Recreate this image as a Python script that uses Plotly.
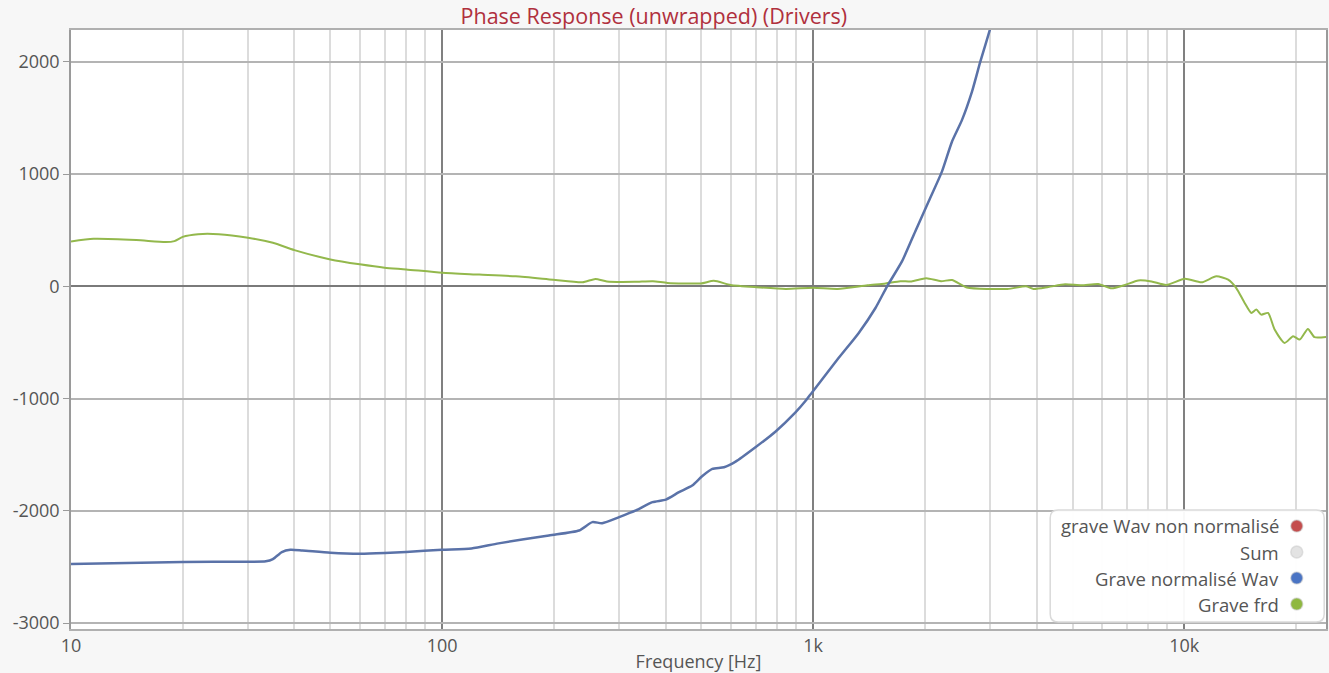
import plotly.graph_objects as go

# Grave frd (green)
freq_frd = [10, 11.5, 15, 18, 19, 20, 22, 25, 30, 35, 40, 50, 60, 70, 80, 100, 126, 158, 199, 239,
            259, 278, 330, 370, 405, 498, 540, 599, 703, 844, 1000, 1164, 1400, 1567, 1718, 1840, 2017, 2210, 2367, 2594,
            3340, 3745, 3925, 4305, 4775, 5290, 5865, 6370, 6920, 7520, 8160, 8950, 10040, 11130, 12200, 13130, 13810, 14550, 15160, 15640,
            16130, 16820, 17520, 18650, 19650, 20470, 21540, 22440, 24200]
phase_frd = [400, 424, 412, 394, 403, 441, 465, 465, 433, 388, 323, 240, 196, 166, 151, 121, 105, 89, 59, 36,
             66, 43, 40, 46, 30, 26, 49, 13, -7, -23, -13, -23, 10, 26, 46, 43, 72, 46, 56, -10,
             -23, 0, -23, -6, 18, 9, 21, -18, 12, 53, 44, 12, 68, 36, 89, 59, -15, -148, -237, -207,
             -252, -237, -385, -504, -444, -474, -379, -453, -450]

# Grave normalisé Wav (blue)
freq_wav = [10, 20, 30, 33.5, 35, 37, 39, 42, 50, 60, 70, 80, 100, 120, 142, 194, 234, 254, 270, 300,
            333, 369, 401, 435, 472, 502, 535, 575, 618, 699, 791, 896, 953, 993, 1172, 1327, 1472, 1582, 1735,
            1884, 2047, 2223, 2366, 2517, 2678, 2820, 3000, 3150]
phase_wav = [-2474, -2456, -2453, -2450, -2430, -2367, -2347, -2353, -2373, -2382, -2376, -2367, -2347, -2335, -2290, -2219, -2175, -2101, -2110, -2056,
             -1997, -1923, -1900, -1834, -1775, -1692, -1627, -1612, -1562, -1434, -1295, -1123, -1022, -945, -637, -415, -193, 0, 222,
             489, 756, 1022, 1289, 1481, 1733, 2000, 2296, 2550]

# legend entries (custom legend, dot on the right side)
legend_names = ["grave Wav non normalisé", "Sum", "Grave normalisé Wav", "Grave frd"]
legend_colors = ["#c44d4d", "#e3e3e3", "#4a74c4", "#8fb840"]

x_tickvals = [10, 100, 1000, 10000]
x_ticktext = ["10", "100", "1k", "10k"]
y_tickvals = [-3000, -2000, -1000, 0, 1000, 2000]
y_ticktext = ["-3000", "-2000", "-1000", "0", "1000", "2000"]

FONT = "Open Sans"
TXT = "#555555"

fig = go.Figure()

fig.add_trace(go.Scatter(x=freq_frd, y=phase_frd, mode="lines", name="Grave frd",
                         line=dict(color="#93b84c", width=2, shape="spline", smoothing=0.6)))
fig.add_trace(go.Scatter(x=freq_wav, y=phase_wav, mode="lines", name="Grave normalisé Wav",
                         line=dict(color="#5a72a8", width=2.5, shape="spline", smoothing=0.6)))

fig.update_layout(
    width=1329, height=673,
    margin=dict(l=71, r=1, t=30, b=44),
    paper_bgcolor="#f7f7f7",
    plot_bgcolor="white",
    showlegend=False,
    font=dict(family=FONT, color=TXT, size=17),
    title=dict(text="Phase Response (unwrapped) (Drivers)", x=0.492, xref="container", xanchor="center",
               y=0.976, yref="container", yanchor="middle",
               font=dict(family=FONT, size=21.5, color="#b0303d")),
)

fig.update_xaxes(
    type="log", range=[1, 4.382],
    tickmode="array", tickvals=x_tickvals, ticktext=x_ticktext,
    tickfont=dict(size=18, color=TXT),
    showgrid=True, gridcolor="#808080", gridwidth=1.5,
    minor=dict(tickvals=[m * 10 ** d for d in range(1, 5) for m in range(2, 10)],
               showgrid=True, gridcolor="#dcdcdc", gridwidth=1.5, ticks=""),
    showline=True, linecolor="#b0b0b0", linewidth=1.5, mirror=True,
    ticks="", zeroline=False,
    title=dict(text="Frequency [Hz]", font=dict(size=18, color=TXT), standoff=2),
)

fig.update_yaxes(
    range=[-3053, 2284],
    tickmode="array", tickvals=y_tickvals, ticktext=y_ticktext,
    tickfont=dict(size=18, color=TXT),
    showgrid=True, gridcolor="#b4b4b4", gridwidth=1.5,
    zeroline=True, zerolinecolor="#7a7a7a", zerolinewidth=2,
    showline=True, linecolor="#9a9a9a", linewidth=1.5, mirror=True,
    ticks="outside", ticklen=6, tickcolor="#9a9a9a",
)

# legend box (rounded, pixel sized, anchored at its centre)
hw, hh, r = 137, 56, 8
box_path = (f"M {-hw + r},{-hh} L {hw - r},{-hh} Q {hw},{-hh} {hw},{-hh + r} "
            f"L {hw},{hh - r} Q {hw},{hh} {hw - r},{hh} L {-hw + r},{hh} "
            f"Q {-hw},{hh} {-hw},{hh - r} L {-hw},{-hh + r} Q {-hw},{-hh} {-hw + r},{-hh} Z")
fig.add_shape(type="path", path=box_path, xref="paper", yref="paper",
              xsizemode="pixel", ysizemode="pixel", xanchor=0.8894, yanchor=0.1052,
              fillcolor="rgba(255,255,255,0.95)", line=dict(color="#dadada", width=1.5), layer="above")

item_y = [0.172, 0.1285, 0.0851, 0.0417]
for name, col, yy in zip(legend_names, legend_colors, item_y):
    fig.add_annotation(text=name, xref="paper", yref="paper", x=0.964, y=yy,
                       xanchor="right", yanchor="middle", showarrow=False,
                       font=dict(family=FONT, size=18.5, color=TXT))
    fig.add_shape(type="circle", xref="paper", yref="paper",
                  xsizemode="pixel", ysizemode="pixel", xanchor=0.9767, yanchor=yy,
                  x0=-6, x1=6, y0=-6, y1=6,
                  fillcolor=col, line=dict(color="rgba(200,200,200,0.5)", width=1.5), layer="above")

# page has a default body margin, drop it so the figure sits at 0,0
fig.write_html("out.html", config={"displayModeBar": False},
               post_script="document.body.style.margin='0';document.body.style.overflow='hidden';")
